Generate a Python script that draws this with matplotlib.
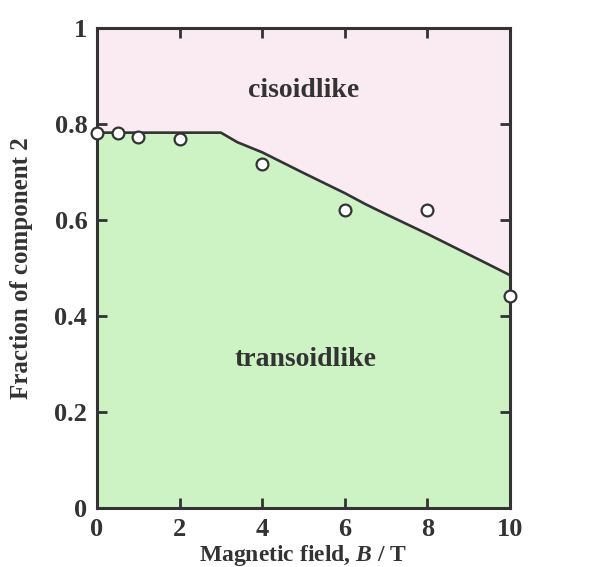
import matplotlib.pyplot as plt

plt.rcParams['font.family'] = ['Liberation Serif', 'DejaVu Serif']
plt.rcParams['font.weight'] = 'bold'
plt.rcParams['mathtext.fontset'] = 'custom'
plt.rcParams['mathtext.it'] = 'Liberation Serif:italic:bold'
plt.rcParams['mathtext.rm'] = 'Liberation Serif:bold'

# measured fraction of component 2
field = [0, 0.5, 1, 2, 4, 6, 8, 10]
fraction = [0.781, 0.782, 0.772, 0.769, 0.717, 0.620, 0.620, 0.442]

# boundary between the two regions
bound_x = [0, 3, 3.4, 4, 5, 6, 6.5, 7, 8, 9.4, 10]
bound_y = [0.782, 0.782, 0.762, 0.741, 0.698, 0.656, 0.633, 0.612, 0.571, 0.511, 0.485]

ink = '#333333'

fig = plt.figure(figsize=(6.07, 5.67), dpi=100)
ax = fig.add_axes([0.1598, 0.1041, 0.6804, 0.8465])

ax.fill_between(bound_x, bound_y, 1, color='#faebf2', lw=0)
ax.fill_between(bound_x, 0, bound_y, color='#cdf3c4', lw=0)
ax.plot(bound_x, bound_y, color=ink, lw=1.9, zorder=3)
ax.plot(field, fraction, 'o', ms=8.5, mfc='white', mec=ink, mew=1.6,
        zorder=4, clip_on=False)

ax.text(5, 0.87, 'cisoidlike', fontsize=20, color=ink, ha='center', va='center')
ax.text(5.05, 0.31, 'transoidlike', fontsize=20, color=ink, ha='center', va='center')

ax.set_xlim(0, 10)
ax.set_ylim(0, 1)
ax.set_xticks([0, 2, 4, 6, 8, 10])
ax.set_yticks([0, 0.2, 0.4, 0.6, 0.8, 1])
ax.set_yticklabels(['0', '0.2', '0.4', '0.6', '0.8', '1'])
ax.tick_params(direction='in', length=7, width=2, top=True, right=True,
               labelsize=19, colors=ink, pad=7)
for s in ax.spines.values():
    s.set_linewidth(2.2)
    s.set_color(ink)

ax.set_xlabel('Magnetic field, $B$ / T', fontsize=17, color=ink, fontweight='bold')
ax.set_ylabel('Fraction of component 2', fontsize=18, color=ink, fontweight='bold')
ax.xaxis.set_label_coords(0.5, -0.074)
ax.yaxis.set_label_coords(-0.155, 0.5)

fig.savefig('out.png', dpi=100)
